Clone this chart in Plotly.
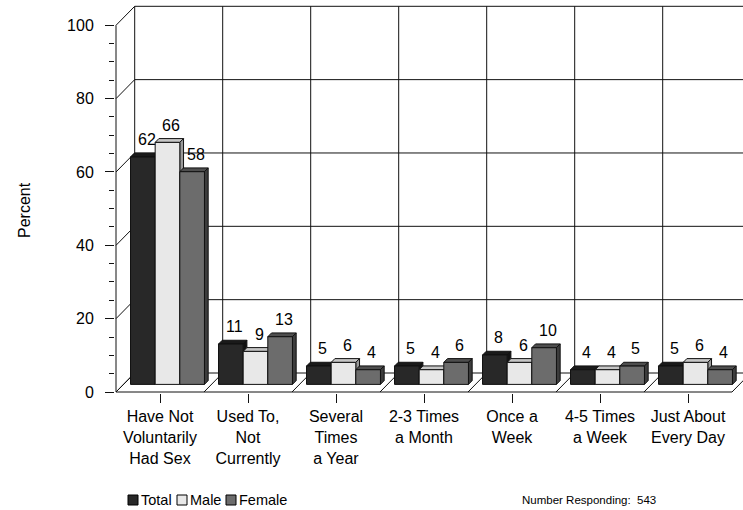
import plotly.graph_objects as go

# ---- data -------------------------------------------------------------
categories = [
    "Have Not<br>Voluntarily<br>Had Sex",
    "Used To,<br>Not<br>Currently",
    "Several<br>Times<br>a Year",
    "2-3 Times<br>a Month",
    "Once a<br>Week",
    "4-5 Times<br>a Week",
    "Just About<br>Every Day",
]
series_names = ["Total", "Male", "Female"]
total = [62, 11, 5, 5, 8, 4, 5]
male = [66, 9, 6, 4, 6, 4, 6]
female = [58, 13, 4, 6, 10, 5, 4]
y_ticks = [0, 20, 40, 60, 80, 100]
y_minor = [v for v in range(5, 100, 5) if v % 20]
responding = 543

series_values = [total, male, female]

# ---- styling ----------------------------------------------------------
FONT = "Arial, Liberation Sans, sans-serif"
front_col = ["#282828", "#e8e8e8", "#6c6c6c"]
top_col = ["#1a1a1a", "#c6c6c6", "#4e4e4e"]
side_col = ["#121212", "#9a9a9a", "#3c3c3c"]
LINE = "#111111"

# ---- pseudo-3D geometry (screen pixels -> axis units) ------------------
W, H = 743, 510
PLOT_L, PLOT_R, PLOT_T, PLOT_B = 115, 743, 0, 393
X0, Y0 = 116, 392            # pixel of the front origin (category 0, 0 %)
PX = 88.0                    # pixels per category
PY = 3.667                   # pixels per percent
DX, DY = 18.7 / PX, 19.0 / PY  # depth vector of the floor / walls
F0, F1 = 0.40, 0.60          # bar depth band (fraction of full depth)
BW, GAP = 0.28, 0.08         # bar width and outer gap per category
ncat = len(categories)

x_range = [(PLOT_L - X0) / PX, (PLOT_R - X0) / PX]
y_range = [(Y0 - PLOT_B) / PY, (Y0 - PLOT_T) / PY]

def px_to_paper_x(p):
    return (p - PLOT_L) / (PLOT_R - PLOT_L)

def px_to_paper_y(p):
    return (PLOT_B - p) / (PLOT_B - PLOT_T)

shapes = []

def seg(x0, y0, x1, y1, color=LINE):
    shapes.append(dict(type="line", xref="x", yref="y", x0=x0, y0=y0, x1=x1, y1=y1,
                       line=dict(color=color, width=1), layer="below"))

# back wall: horizontal gridlines and vertical category dividers
for v in y_ticks:
    seg(DX, v + DY, ncat + DX, v + DY)
for c in range(ncat + 1):
    seg(c + DX, DY, c + DX, y_ticks[-1] + DY)
# side wall diagonals at the major ticks
for v in y_ticks:
    seg(0, v, DX, v + DY)
# floor diagonals at the category dividers
for c in range(ncat + 1):
    seg(c, 0, c + DX, DY)
# front floor edge and front value axis
seg(0, 0, ncat, 0)
seg(0, 0, 0, y_ticks[-1])

# ---- bars --------------------------------------------------------------
fig = go.Figure()
ddx, ddy = (F1 - F0) * DX, (F1 - F0) * DY
base = F0 * DY
annotations = []

for i, (name, vals) in enumerate(zip(series_names, series_values)):
    lefts = [c + GAP + i * BW + F0 * DX for c in range(ncat)]
    fig.add_trace(go.Bar(
        name=name,
        x=[xl + BW / 2 for xl in lefts],
        y=vals,
        base=[base] * ncat,
        width=BW,
        marker=dict(color=front_col[i], line=dict(color=LINE, width=1)),
        showlegend=False,
        hoverinfo="skip",
    ))
    for xl, v in zip(lefts, vals):
        xr = xl + BW
        yt = base + v
        # top face
        shapes.append(dict(
            type="path", xref="x", yref="y", layer="below",
            path=f"M{xl},{yt} L{xr},{yt} L{xr + ddx},{yt + ddy} L{xl + ddx},{yt + ddy} Z",
            fillcolor=top_col[i], line=dict(color=LINE, width=1)))
        # right side face
        shapes.append(dict(
            type="path", xref="x", yref="y", layer="below",
            path=f"M{xr},{base} L{xr + ddx},{base + ddy} L{xr + ddx},{yt + ddy} L{xr},{yt} Z",
            fillcolor=side_col[i], line=dict(color=LINE, width=1)))
        # value label above the bar
        annotations.append(dict(
            x=(xl + xr) / 2 + ddx, y=yt + ddy, xref="x", yref="y",
            text=str(v), showarrow=False, yanchor="bottom", yshift=3,
            font=dict(family=FONT, size=16, color="#000000")))

# ---- legend (drawn manually for compact squares) -----------------------
legend_items = [(128, 139), (177, 188), (226, 237)]
LEG_Y = 500
for i, name in enumerate(series_names):
    sx, tx = legend_items[i]
    shapes.append(dict(
        type="rect", xref="paper", yref="paper",
        x0=px_to_paper_x(sx), x1=px_to_paper_x(sx + 10),
        y0=px_to_paper_y(LEG_Y + 5), y1=px_to_paper_y(LEG_Y - 5),
        fillcolor=front_col[i], line=dict(color="#000000", width=1)))
    annotations.append(dict(
        x=px_to_paper_x(tx), y=px_to_paper_y(LEG_Y), xref="paper", yref="paper",
        text=name, showarrow=False, xanchor="left", yanchor="middle",
        font=dict(family=FONT, size=14.5, color="#000000")))

annotations.append(dict(
    x=px_to_paper_x(520), y=px_to_paper_y(LEG_Y), xref="paper", yref="paper",
    text=f"Number Responding:  {responding}", showarrow=False,
    xanchor="left", yanchor="middle",
    font=dict(family=FONT, size=11.5, color="#000000")))

annotations.append(dict(
    x=px_to_paper_x(24), y=px_to_paper_y(210), xref="paper", yref="paper",
    text="Percent", showarrow=False, textangle=-90,
    xanchor="center", yanchor="middle",
    font=dict(family=FONT, size=16, color="#000000")))

fig.update_layout(
    width=W, height=H,
    margin=dict(l=PLOT_L, r=W - PLOT_R, t=PLOT_T, b=H - PLOT_B, pad=0),
    paper_bgcolor="#ffffff", plot_bgcolor="#ffffff",
    barmode="overlay",
    shapes=shapes,
    annotations=annotations,
    font=dict(family=FONT, size=16, color="#000000"),
    xaxis=dict(
        range=x_range, showgrid=False, zeroline=False, showline=False,
        tickmode="array", tickvals=[c + 0.5 for c in range(ncat)], ticktext=categories,
        ticks="outside", ticklen=9, tickwidth=1, tickcolor=LINE,
        tickfont=dict(family=FONT, size=16, color="#000000"),
        ticklabelstandoff=0, fixedrange=True,
    ),
    yaxis=dict(
        range=y_range, showgrid=False, zeroline=False, showline=False,
        tickmode="array", tickvals=y_ticks,
        ticks="outside", ticklen=9, tickwidth=1, tickcolor=LINE,
        minor=dict(tickmode="array", tickvals=y_minor, ticks="outside",
                   ticklen=5, tickwidth=1, tickcolor=LINE, showgrid=False),
        tickfont=dict(family=FONT, size=16, color="#000000"),
        ticklabelstandoff=8, fixedrange=True,
    ),
    showlegend=False,
)

fig.write_html("out.html")
